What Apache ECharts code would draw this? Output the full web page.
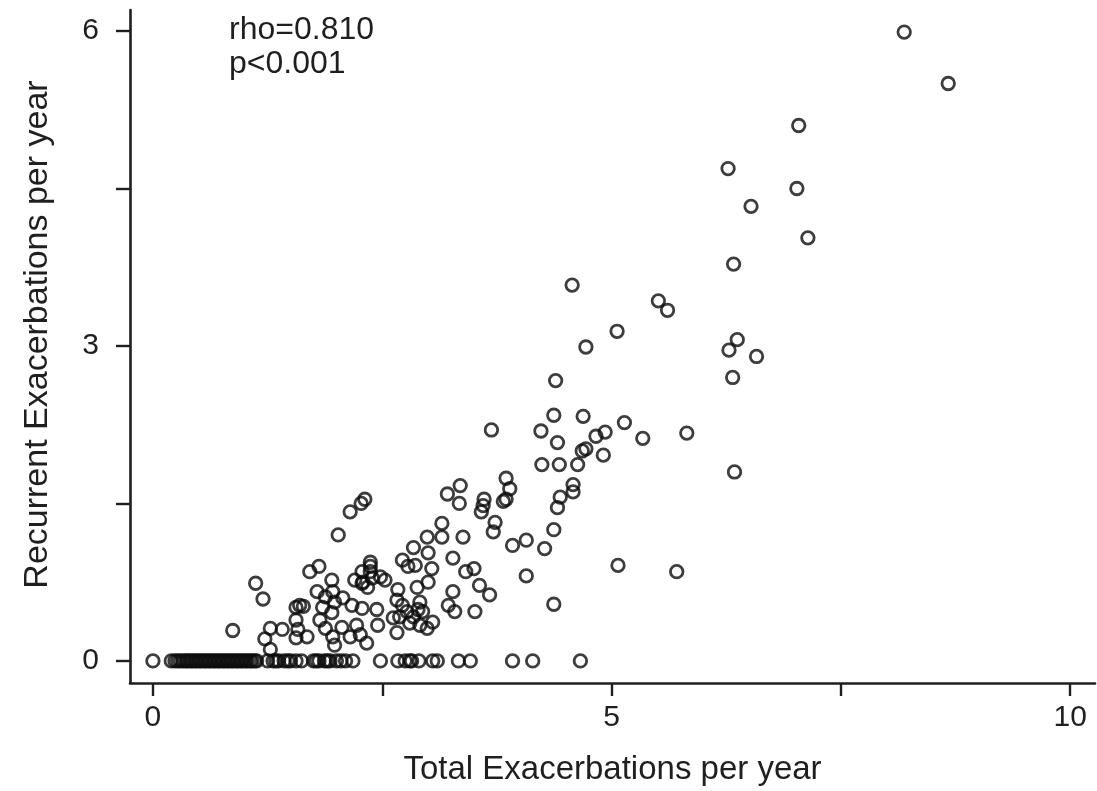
<!DOCTYPE html>
<html>
<head>
<meta charset="utf-8">
<title>Total vs Recurrent Exacerbations</title>
<script src="https://cdn.jsdelivr.net/npm/echarts@6/dist/echarts.min.js"></script>
<style>
  html, body { margin: 0; padding: 0; background: #fff; }
  #chart { width: 1097px; height: 791px; }
</style>
</head>
<body>
<div id="chart"></div>
<script>
// Patients with no recurrent exacerbation: total exacerbations per year
const zeroRecurrenceTotals = [
  0, 0.2, 0.24, 0.27, 0.3, 0.33, 0.36, 0.38, 0.41, 0.43, 0.46, 0.48, 0.51, 0.53, 0.56,
  0.58, 0.61, 0.63, 0.66, 0.68, 0.71, 0.73, 0.76, 0.78, 0.81, 0.83, 0.86, 0.88, 0.91,
  0.93, 0.96, 0.98, 1.01, 1.03, 1.06, 1.08, 1.11, 1.13,
  1.25, 1.31, 1.34, 1.37, 1.43, 1.47, 1.5, 1.56, 1.62,
  1.75, 1.78, 1.81, 1.87, 1.9, 1.93, 2.0, 2.05, 2.1, 2.18,
  2.48, 2.67, 2.75, 2.8, 2.82, 2.9, 3.05, 3.1,
  3.33, 3.46, 3.92, 4.14, 4.66
];

// Patients with recurrent exacerbations: [total per year, recurrent per year]
const recurrencePairs = [
  [8.19,5.99],[8.67,5.50],[7.04,5.10],[6.27,4.69],[7.02,4.50],[6.52,4.33],[7.14,4.03],[6.33,3.78],
  [4.57,3.58],[5.51,3.43],[5.61,3.34],[5.06,3.14],[4.72,2.99],[6.37,3.06],[6.28,2.96],[6.58,2.90],[6.32,2.70],[4.39,2.67],
  [4.37,2.34],[4.69,2.33],[5.14,2.27],[3.69,2.20],[4.23,2.19],[4.41,2.08],[4.83,2.14],[4.93,2.18],[5.34,2.12],[5.82,2.17],
  [4.72,2.02],[4.68,2.00],[4.91,1.96],[4.24,1.87],[4.43,1.87],[4.63,1.87],[6.34,1.80],
  [3.85,1.74],[3.89,1.64],[3.85,1.54],[3.82,1.52],[3.35,1.67],[3.21,1.59],[3.34,1.50],[3.61,1.54],[3.60,1.48],[3.58,1.42],
  [4.58,1.68],[4.58,1.61],[4.44,1.56],[4.41,1.46],[4.37,1.25],[4.27,1.07],[4.07,1.15],[3.92,1.10],[4.07,0.81],[5.07,0.91],[5.71,0.85],
  [3.73,1.32],[3.71,1.23],[3.38,1.18],[3.15,1.31],[3.15,1.18],[2.99,1.18],
  [3.27,0.98],[3.41,0.85],[3.50,0.88],[3.56,0.72],[3.67,0.63],[3.27,0.66],[3.22,0.53],[3.29,0.47],[3.51,0.47],[4.37,0.54],
  [2.72,0.96],[2.78,0.90],[2.86,0.91],[2.84,1.08],[3.00,1.03],[3.04,0.88],[3.00,0.75],[2.88,0.70],[2.67,0.68],
  [2.66,0.58],[2.72,0.53],[2.62,0.41],[2.69,0.42],[2.77,0.47],[2.84,0.42],[2.91,0.56],[2.89,0.49],[2.94,0.47],[2.80,0.36],[2.91,0.34],[3.05,0.37],[2.99,0.31],[2.66,0.27],
  [2.31,1.54],[2.27,1.50],[2.15,1.42],[2.02,1.20],[2.37,0.94],[2.37,0.90],[2.37,0.85],
  [2.28,0.85],[2.20,0.77],[2.29,0.75],[2.39,0.79],[2.48,0.80],[2.53,0.77],[2.34,0.70],[2.28,0.74],
  [1.71,0.85],[1.81,0.90],[1.95,0.77],
  [1.79,0.66],[1.88,0.61],[1.96,0.66],[1.98,0.56],[2.07,0.60],[2.17,0.53],[2.28,0.50],[2.44,0.49],[1.85,0.51],
  [1.82,0.39],[1.95,0.46],[1.88,0.31],[2.06,0.32],[1.96,0.23],[2.22,0.34],[2.26,0.25],[2.15,0.23],[2.33,0.17],[1.98,0.15],[2.45,0.34],
  [0.87,0.29],[1.12,0.74],[1.20,0.59],[1.22,0.21],[1.28,0.31],[1.28,0.11],[1.41,0.30],[1.56,0.39],[1.58,0.30],
  [1.56,0.51],[1.60,0.53],[1.64,0.52],[1.56,0.22],[1.68,0.23]
];

// Axis ticks and labels
const xTicks = [0, 2.5, 5, 7.5, 10];
const xLabels = [0, 5, 10];
const yTicks = [0, 1.5, 3, 4.5, 6];
const yLabels = [0, 3, 6];

// Spearman correlation annotation
const statLines = ['rho=0.810', 'p<0.001'];

const points = zeroRecurrenceTotals.map(x => [x, 0]).concat(recurrencePairs);

const FONT = '"Liberation Sans", Arial, Helvetica, sans-serif';
const INK = '#1f1f1f';

const chart = echarts.init(document.getElementById('chart'), null, { renderer: 'canvas' });

chart.setOption({
  animation: false,
  backgroundColor: '#ffffff',
  grid: { left: 130, right: 2, top: 10, bottom: 108, containLabel: false },
  xAxis: {
    type: 'value',
    min: -0.25,
    max: 10.27,
    name: 'Total Exacerbations per year',
    nameLocation: 'middle',
    nameGap: 70,
    nameTextStyle: { fontFamily: FONT, fontSize: 33, color: INK },
    splitLine: { show: false },
    axisLine: { show: true, onZero: false, lineStyle: { color: INK, width: 2.6 } },
    axisTick: { show: true, length: 13, customValues: xTicks, lineStyle: { color: INK, width: 2.4 } },
    axisLabel: { customValues: xLabels, fontFamily: FONT, fontSize: 30, color: INK, margin: 20 }
  },
  yAxis: {
    type: 'value',
    min: -0.21,
    max: 6.2,
    name: 'Recurrent Exacerbations per year',
    nameLocation: 'middle',
    nameGap: 75,
    nameTextStyle: { fontFamily: FONT, fontSize: 34, color: INK, padding: [0, 0, 0, 24] },
    splitLine: { show: false },
    axisLine: { show: true, onZero: false, lineStyle: { color: INK, width: 2.6 } },
    axisTick: { show: true, length: 14, customValues: yTicks, lineStyle: { color: INK, width: 2.4 } },
    axisLabel: { customValues: yLabels, fontFamily: FONT, fontSize: 30, color: INK, margin: 31 }
  },
  graphic: statLines.map((t, i) => ({
    type: 'text',
    left: 229,
    top: 14 + i * 34,
    style: { text: t, font: '32px ' + FONT, fill: INK }
  })),
  series: [{
    type: 'scatter',
    data: points,
    symbol: 'circle',
    symbolSize: 12.5,
    itemStyle: { color: 'rgba(0,0,0,0)', borderColor: '#0d0d0d', borderWidth: 2.8 },
    emphasis: { disabled: true }
  }]
});
</script>
</body>
</html>
